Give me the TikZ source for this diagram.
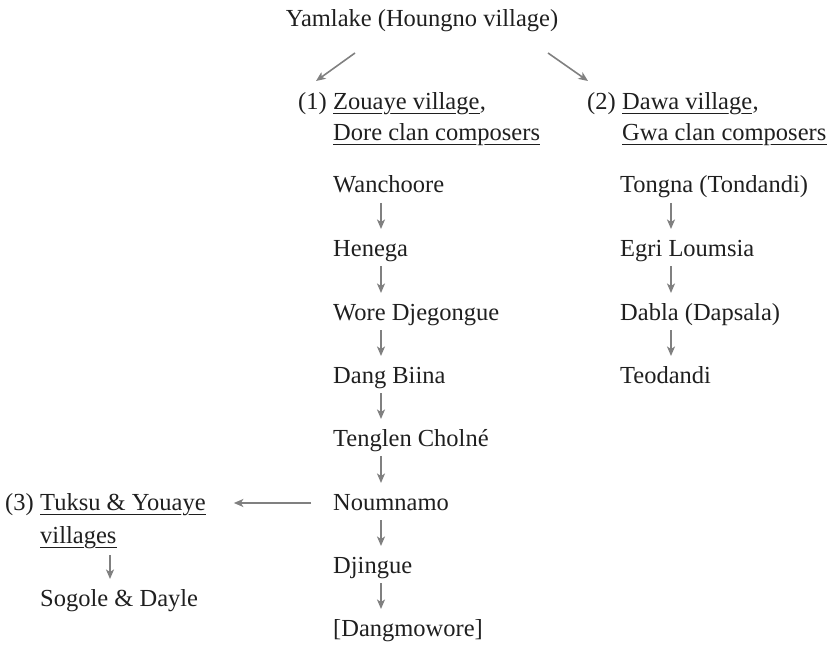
\documentclass[tikz,border=0pt]{standalone}
\usepackage{fontspec}
\setmainfont{Liberation Serif}
\usepackage{contour}
\contourlength{1.4pt}
\contournumber{24}
\usetikzlibrary{arrows.meta,calc,backgrounds}
\definecolor{arrgray}{RGB}{128,128,128}
\tikzset{
  txt/.style={inner sep=0pt, anchor=base west, font=\fontsize{24.5}{30}\selectfont, text=black!88},
  arr/.style={draw=arrgray, line width=1.6pt, -{Stealth[length=9.5pt,width=8pt,inset=2.5pt]}},
  ul/.style={line width=1pt, draw=black!88},
}
\begin{document}
\begin{tikzpicture}[x=1pt,y=-1pt]
\useasboundingbox (0,0) rectangle (834,652);
% column x positions for arrows
\coordinate (c1) at (381,0);
\coordinate (c2) at (671,0);
\coordinate (c3) at (110,0);
% top
\node[txt, anchor=base] (yam) at (422,27) {Yamlake (Houngno village)};
% header 1
\node[txt] (n1) at (298,110) {(1)};
\node[txt] (z1) at (333,110) {\contour{white}{Zouaye village}};
\node[txt] (z1c) at (z1.base east) {,};
\node[txt] (d1) at (333,141) {\contour{white}{Dore clan composers}};
% header 2
\node[txt] (n2) at (587,110) {(2)};
\node[txt] (z2) at (622,110) {\contour{white}{Dawa village}};
\node[txt] (z2c) at (z2.base east) {,};
\node[txt] (d2) at (622,141) {\contour{white}{Gwa clan composers}};
% column 1
\node[txt] (a1) at (333,193) {Wanchoore};
\node[txt] (a2) at (333,256) {Henega};
\node[txt] (a3) at (333,320) {Wore Djegongue};
\node[txt] (a4) at (333,383) {Dang Biina};
\node[txt] (a5) at (333,446) {Tenglen Cholné};
\node[txt] (a6) at (333,510) {Noumnamo};
\node[txt] (a7) at (333,573) {Djingue};
\node[txt] (a8) at (333,636) {[Dangmowore]};
% column 2
\node[txt] (b1) at (620,193) {Tongna (Tondandi)};
\node[txt] (b2) at (620,256) {Egri Loumsia};
\node[txt] (b3) at (620,320) {Dabla (Dapsala)};
\node[txt] (b4) at (620,383) {Teodandi};
% column 3
\node[txt] (n3) at (5,510) {(3)};
\node[txt] (t3) at (40,510) {\contour{white}{Tuksu \& Youaye}};
\node[txt] (v3) at (40,543) {\contour{white}{villages}};
\node[txt] (s3) at (40,606) {Sogole \& Dayle};
% underlines
\begin{pgfonlayer}{background}
  \foreach \n in {z1,d1,z2,d2,t3,v3}{
    \draw[ul] ($(\n.base west)+(0,4)$) -- ($(\n.base east)+(0,4)$);
  }
\end{pgfonlayer}
% diagonal arrows
\draw[arr] ($(yam.base)+(-67,26)$) -- ($(n1.base west)+(18,-29)$);
\draw[arr] ($(yam.base)+(126,26)$) -- ($(n2.base west)+(1,-29)$);
% vertical arrows
\foreach \p/\q in {a1/a2,a2/a3,a3/a4,a4/a5,a5/a6,a6/a7,a7/a8}{
  \draw[arr] ($(\p.base -| c1)+(0,10)$) -- ($(\q.base -| c1)+(0,-27)$);
}
\foreach \p/\q in {b1/b2,b2/b3,b3/b4}{
  \draw[arr] ($(\p.base -| c2)+(0,10)$) -- ($(\q.base -| c2)+(0,-27)$);
}
\draw[arr] ($(v3.base -| c3)+(0,12)$) -- ($(s3.base -| c3)+(0,-27)$);
% horizontal arrow
\draw[arr] ($(a6.base west)+(-22,-7)$) -- ($(t3.base east)+(28,-7)$);
\end{tikzpicture}
\end{document}
